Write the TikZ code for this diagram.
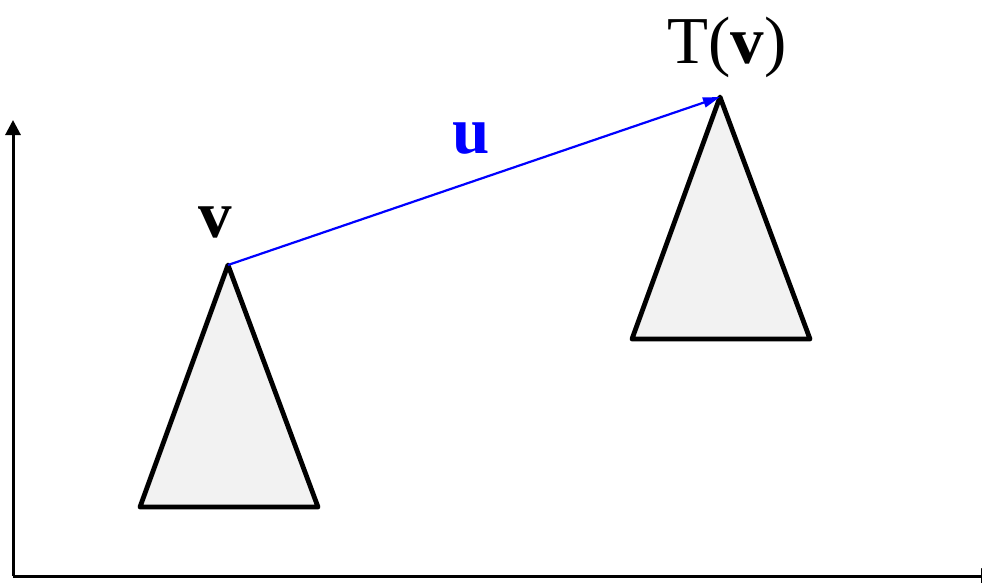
\documentclass[tikz,border=0pt]{standalone}
\usepackage{fontspec}
\setmainfont{Liberation Serif}
\usetikzlibrary{arrows.meta}
\definecolor{tf}{HTML}{F2F2F2}
\tikzset{
  axis/.style={line width=3pt, -{Triangle[width=15pt,length=15pt]}},
  tri/.style={line width=4.8pt, line join=round, fill=tf},
  transvec/.style={blue, line width=2.2pt, -{Triangle[width=10pt,length=17pt]}},
  lbl/.style={anchor=base, font=\fontsize{67}{70}\selectfont, inner sep=0pt}
}
\begin{document}
\begin{tikzpicture}[x=1pt,y=-1pt]
  \useasboundingbox (0,0) rectangle (982,582);
  \clip (0,0) rectangle (982,582);
  % axes
  \coordinate (o) at (13,576);
  \coordinate (ytop) at (13,120);
  \coordinate (xend) at (996,576);
  \draw[axis] (o) -- (ytop);
  \draw[axis] (o) -- (xend);
  % original and transformed triangles
  \coordinate (v) at (228,265);
  \coordinate (tv) at (720,97);
  \draw[tri] (v) -- (318,507) -- (140,507) -- cycle;
  \draw[tri] (tv) -- (810,339) -- (632,339) -- cycle;
  \draw[transvec] (v) -- (tv);
  % labels
  \node[lbl] (vlbl) at (215,237) {\textbf{v}};
  \node[lbl] (tvlbl) at (727,63) {T(\textbf{v})};
  \node[lbl, blue] (ulbl) at (471,153) {\textbf{u}};
\end{tikzpicture}
\end{document}
